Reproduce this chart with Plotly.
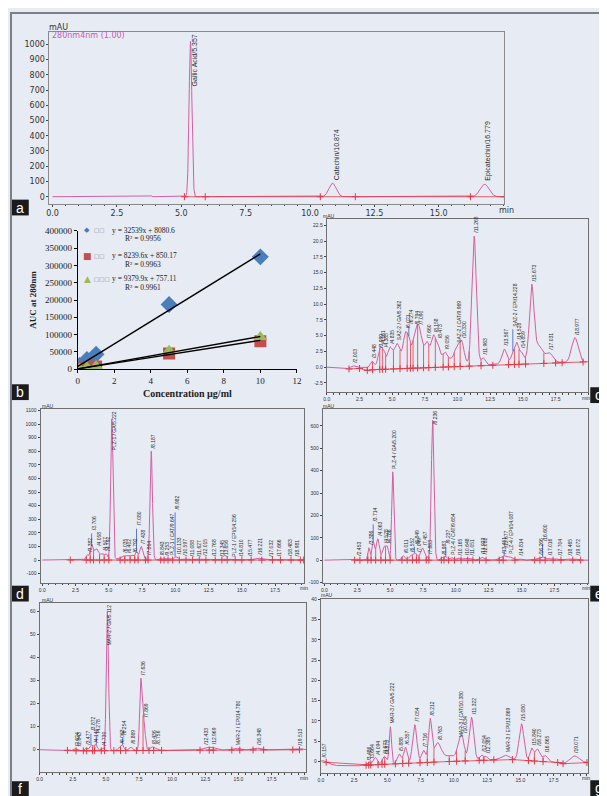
import numpy as np
import plotly.graph_objects as go

W, H = 607, 796
BG = '#e7ebf4'
TRACE = '#d2609f'
BASE = '#e53945'
LEAD = '#3a5cc8'

# ---------------- Panel a : standard mixture ----------------
a_rt = [3.80, 4.60, 5.357, 10.874, 16.779]
a_height = [8, 4, 1020, 88, 82]
a_sigma = [0.03, 0.03, 0.055, 0.14, 0.17]
a_label = ['', '', 'Gallic Acid/5.357', 'Catechin/10.874', 'Epicatechin/16.779']
a_label_y = [None, None, None, None, None]
a_base_t = [0, 17.6]
a_base_v = [0, 0]
a_marks = [5.12, 5.93, 10.40, 11.76, 16.23, 17.55]
a_yticks = list(range(0, 1001, 100))
a_xticks = [0, 2.5, 5, 7.5, 10, 12.5, 15]

# ---------------- Panel b : calibration ----------------
b_conc = [0.1, 0.5, 1, 5, 10]
b_ga = [11000, 28000, 43000, 187000, 325000]
b_cat = [3000, 5000, 8000, 45000, 81000]
b_epi = [2000, 5500, 9500, 53000, 93000]
b_fit_slope = [32539, 8239.6, 9379.9]
b_fit_icpt = [8080.6, 850.17, 757.11]
b_eq = ['y = 32539x + 8080.6', 'y = 8239.6x + 850.17', 'y = 9379.9x + 757.11']
b_r2 = ['R² = 0.9956', 'R² = 0.9963', 'R² = 0.9961']
b_names = ['□□', '□□', '□□□']
b_xticks = [0, 2, 4, 6, 8, 10, 12]
b_yticks = list(range(0, 400001, 50000))

# ---------------- Panel c : SAZ-2 ----------------
c_rt = [2.003, 3.448, 3.989, 4.161, 4.385, 4.835, 5.362, 6.021, 6.274, 6.794, 7.090, 7.660,
        8.158, 8.473, 9.056, 9.969, 10.330, 11.268, 11.963, 13.567, 14.228, 14.528, 14.859,
        15.673, 16.20, 17.031, 18.977, 7.0, 15.3]
c_height = [0.35, 0.8, 1.0, 2.3, 1.2, 2.0, 2.1, 3.3, 1.7, 3.0, 2.9, 1.6,
            2.8, 1.7, 0.8, 2.1, 3.0, 20.3, 1.1, 2.2, 1.3, 2.7, 1.1,
            11.3, 2.2, 1.3, 3.9, 2.7, 0.9]
c_sigma = [0.15, 0.12, 0.10, 0.14, 0.09, 0.17, 0.17, 0.15, 0.11, 0.19, 0.17, 0.15,
           0.15, 0.13, 0.13, 0.20, 0.17, 0.17, 0.16, 0.17, 0.12, 0.13, 0.12,
           0.17, 0.30, 0.25, 0.25, 2.0, 1.2]
c_label = ['/2.003', '/3.448', '/3.989', '/4.161', '/4.385', '/4.835', 'SAZ-2 / GA/5.362', '/6.021',
           '/6.274', '/6.794', '/7.090', '/7.660', '/8.158', '/8.473', '/9.056', 'SAZ-2 / CAT/9.969',
           '/10.330', '/11.268', '/11.963', '/13.567', 'SAZ-2 / EPI/14.228', '/14.528', '/14.859',
           '/15.673', '', '/17.031', '/18.977', '', '']
c_label_y = [None] * 8 + [6.4] + [None] * 11 + [6.0] + [None] * 8
c_base_t = [0, 1.5, 2.5, 3.1, 3.5, 19.9]
c_base_v = [0, -0.3, -0.2, -0.5, -0.4, 0.85]
c_marks = [1.7, 2.5, 3.1, 3.5, 4.05, 4.25, 4.5, 5.1, 5.6, 6.15, 6.4, 6.6, 6.95, 7.4, 7.8,
           8.3, 8.9, 9.3, 9.75, 10.2, 10.9, 11.8, 12.7, 13.9, 14.35, 14.7, 15.2, 16.6, 17.5, 18.0, 19.6]
c_yticks = [-2.5, 0, 2.5, 5, 7.5, 10, 12.5, 15, 17.5, 20, 22.5]

# ---------------- Panel d : PLZ-1 ----------------
d_rt = [3.382, 3.706, 4.058, 4.507, 4.792, 5.222, 6.035, 6.402, 6.792, 7.080, 7.438, 7.864,
        8.187, 8.843, 9.253, 9.647, 9.982, 10.133, 10.597, 11.088, 11.627, 12.015, 12.768,
        13.345, 13.656, 14.256, 14.810, 15.477, 16.221, 17.032, 17.666, 18.483, 18.981, 4.2, 6.5]
d_height = [30, 95, 60, 25, 30, 1030, 15, 15, 15, 50, 95, 12,
            800, 12, 12, 12, 20, 15, 8, 7, 7, 7, 5,
            5, 5, 5, 5, 5, 14, 5, 5, 5, 5, 25, 18]
d_sigma = [0.08, 0.10, 0.15, 0.12, 0.08, 0.085, 0.15, 0.15, 0.12, 0.09, 0.12, 0.10,
           0.09, 0.12, 0.12, 0.12, 0.08, 0.10, 0.15, 0.15, 0.15, 0.15, 0.15,
           0.15, 0.15, 0.15, 0.15, 0.15, 0.25, 0.20, 0.20, 0.20, 0.20, 0.6, 0.6]
d_label = ['/3.382', '/3.706', '/4.058', '/4.507', '/4.792', 'PLZ-1 / GA/5.222', '/6.035', '/6.402',
           '/6.792', '/7.080', '/7.438', '/7.864', '/8.187', '/8.843', '/9.253', 'PLZ-1 / CAT/9.647',
           '/9.982', '/10.133', '/10.597', '/11.088', '/11.627', '/12.015', '/12.768', '/13.345',
           '/13.656', 'PLZ-1 / EPI/14.256', '/14.810', '/15.477', '/16.221', '/17.032', '/17.666',
           '/18.483', '/18.981', '', '']
d_label_y = [None, 195, None, None, None, None, None, None, None, 230, None, None, None, None, None,
             None, 350] + [None] * 18
d_base_t = [0, 19.8]
d_base_v = [0, 0]
d_marks = [2.1, 3.3, 3.6, 3.85, 4.3, 4.65, 5.0, 5.85, 6.2, 6.6, 6.95, 7.2, 7.75, 7.95, 8.9, 9.15,
           9.45, 9.8, 10.3, 10.8, 11.3, 11.8, 12.3, 13.0, 13.5, 13.9, 14.5, 15.0, 15.7, 16.5, 17.3,
           17.9, 18.7, 19.4, 19.65]
d_yticks = list(range(-100, 1101, 100))

# ---------------- Panel e : PLZ-4 ----------------
e_rt = [2.453, 3.386, 3.714, 4.063, 4.528, 4.786, 5.200, 6.011, 6.552, 6.849, 7.049, 7.457,
        7.883, 8.236, 8.983, 9.237, 9.654, 10.165, 10.648, 11.051, 11.923, 12.032, 13.451,
        13.677, 14.087, 14.814, 16.266, 16.600, 17.016, 17.704, 18.465, 19.072]
e_height = [5, 55, 80, 95, 60, 55, 395, 20, 20, 30, 15, 55,
            12, 625, 12, 15, 12, 10, 8, 8, 8, 6, 10,
            12, 15, 6, 8, 12, 6, 5, 5, 5]
e_sigma = [0.10, 0.08, 0.10, 0.12, 0.13, 0.10, 0.08, 0.12, 0.12, 0.12, 0.10, 0.15,
           0.10, 0.10, 0.12, 0.10, 0.12, 0.15, 0.15, 0.15, 0.15, 0.12, 0.20,
           0.15, 0.20, 0.20, 0.20, 0.15, 0.20, 0.20, 0.20, 0.20]
e_label = ['/2.453', '/3.386', '/3.714', '/4.063', '/4.528', '/4.786', 'PLZ-4 / GA/5.200', '/6.011',
           '/6.552', '/6.849', '/7.049', '/7.457', '/7.883', '/8.236', '/8.983', '/9.237',
           'PLZ-4 / CAT/9.654', '/10.165', '/10.648', '/11.051', '/11.923', '/12.032', '/13.451',
           '/13.677', 'PLZ-4 / EPI/14.087', '/14.814', '/16.266', '/16.600', '/17.016', '/17.704',
           '/18.465', '/19.072']
e_label_y = [None, None, 160, None, None, None, None, None, None, 60, None, None, None, None, None,
             60, None, None, None, None, None, None, None, 42, None, None, None, 72, None, None, None, None]
e_base_t = [0, 20]
e_base_v = [0, 0]
e_marks = [2.3, 2.7, 3.3, 3.55, 3.9, 4.3, 4.65, 5.0, 5.9, 6.3, 6.7, 7.0, 7.2, 7.75, 7.95, 8.9, 9.1,
           9.45, 9.9, 10.4, 10.9, 11.3, 11.8, 12.3, 13.3, 13.6, 14.5, 16.0, 16.4, 16.8, 17.4, 18.0,
           18.9, 19.5]
e_yticks = list(range(-100, 601, 100))

# ---------------- Panel f : MAR-2 ----------------
f_rt = [2.624, 2.843, 3.477, 3.872, 4.140, 4.278, 4.730, 5.112, 6.063, 6.254, 6.869, 7.636,
        7.869, 8.436, 8.756, 12.433, 12.969, 14.780, 16.348, 19.513]
f_height = [0.8, 0.8, 1.2, 2.5, 1.5, 2.0, 1.0, 60, 1.5, 2.0, 1.5, 30.5,
            12, 1.5, 1.0, 0.8, 1.2, 0.8, 0.8, 0.5]
f_sigma = [0.10, 0.10, 0.10, 0.12, 0.10, 0.10, 0.10, 0.085, 0.15, 0.10, 0.15, 0.09,
           0.10, 0.15, 0.15, 0.25, 0.30, 0.30, 0.30, 0.30]
f_label = ['/2.624', '/2.843', '/3.477', '/3.872', '/4.140', '/4.278', '/4.730', 'MAR-2 / GA/5.112',
           '/6.063', '/6.254', '/6.869', '/7.636', '/7.869', '/8.436', '/8.756', '/12.433',
           '/12.969', 'MAR-2 / EPI/14.780', '/16.348', '/19.513']
f_label_y = [None, None, None, 7.0, None, 6.0, None, None, None, 5.0] + [None] * 10
f_base_t = [0, 2.0, 2.2, 20]
f_base_v = [0, 0, -0.5, 0]
f_marks = [2.1, 2.75, 3.3, 3.55, 4.0, 4.15, 4.65, 4.9, 5.6, 6.1, 6.5, 7.3, 7.8, 8.25, 8.6, 9.2,
           12.1, 12.8, 13.1, 14.5, 15.1, 16.1, 16.9, 19.1, 19.6]
f_yticks = [0, 10, 20, 30, 40, 50, 60]

# ---------------- Panel g : MAR-3 ----------------
g_rt = [0.157, 3.486, 3.664, 4.094, 4.673, 4.873, 5.222, 5.888, 6.357, 7.054, 7.716, 8.212,
        8.763, 10.380, 10.634, 11.322, 12.054, 12.385, 13.869, 15.080, 15.840, 16.273, 16.865,
        19.071, 9.6]
g_height = [0.3, 0.3, 0.8, 1.8, 1.6, 1.5, 9.2, 2.4, 4.0, 9.4, 2.8, 10.0,
            3.8, 3.0, 4.6, 10.4, 1.2, 0.9, 1.0, 9.0, 3.0, 3.0, 1.5,
            1.8, 1.4]
g_sigma = [0.10, 0.08, 0.10, 0.15, 0.10, 0.10, 0.09, 0.15, 0.13, 0.16, 0.15, 0.12,
           0.25, 0.15, 0.15, 0.17, 0.12, 0.12, 0.30, 0.18, 0.13, 0.18, 0.20,
           0.35, 1.0]
g_label = ['/0.157', '/3.486', '/3.664', '/4.094', '/4.673', '/4.873', 'MAR-3 / GA/5.222', '/5.888',
           '/6.357', '/7.054', '/7.716', '/8.212', '/8.763', 'MAR-3 / CAT/10.380', '/10.634',
           '/11.322', '/12.054', '/12.385', 'MAR-3 / EPI/13.869', '/15.080', '/15.840', '/16.273',
           '/16.865', '/19.071', '']
g_label_y = [None] * 25
g_base_t = [0, 0.5, 1.0, 2.5, 3.3, 5.0, 10.0, 14.0, 17.8, 18.2, 20.1]
g_base_v = [0, -0.3, -1.0, -1.2, -1.0, -0.7, 0.0, 0.5, -0.3, -0.6, -0.3]
g_marks = [0.4, 3.4, 3.6, 3.75, 4.3, 4.6, 4.8, 5.6, 6.15, 6.6, 7.45, 8.0, 8.5, 9.65, 10.2, 10.85,
           11.9, 12.25, 13.0, 14.4, 15.6, 16.05, 16.7, 17.8, 18.2, 20.0]
g_yticks = [0, 5, 10, 15, 20, 25, 30, 35, 40]

chrom_xticks = [0, 2.5, 5, 7.5, 10, 12.5, 15, 17.5]

# =================================================================
fig = go.Figure()
annotations = []
shapes = []


def xdom(p0, p1):
    return [p0 / W, p1 / W]


def ydom(p0, p1):
    return [1 - p1 / H, 1 - p0 / H]


def signal(t, rt, h, s, bt, bv):
    y = np.interp(t, bt, bv)
    for r, hh, ss in zip(rt, h, s):
        y = y + hh * np.exp(-0.5 * ((t - r) / ss) ** 2)
    return y


def ax_name(n):
    return '' if n == 1 else str(n)


def add_chrom(n, rt, h, s, lab, laby, bt, bv, marks, xr, yr, xd, yd, yticks, yfmt,
              xticks, tick_size, tick_family, lab_size, lab_family, charw, xshift,
              lab_color='#2b2b2b', frame='#6f6f70'):
    k = ax_name(n)
    xa, ya = 'x' + k, 'y' + k
    t = np.arange(max(xr[0], 0), xr[1], 0.005)
    y = signal(t, rt, h, s, bt, bv)
    mb = np.interp(marks, bt, bv)
    ms = signal(np.array(marks, float), rt, h, s, bt, bv)
    dx, dy = [], []
    for m, b0, s0 in zip(marks, mb, ms):
        dx += [m, m, None]
        dy += [b0, s0, None]
    fig.add_trace(go.Scatter(x=dx, y=dy, mode='lines', line=dict(color=BASE, width=0.8),
                             xaxis=xa, yaxis=ya, showlegend=False, hoverinfo='skip'))
    fig.add_trace(go.Scatter(x=t, y=y, mode='lines', line=dict(color=TRACE, width=1),
                             xaxis=xa, yaxis=ya, showlegend=False))
    fig.add_trace(go.Scatter(x=marks, y=mb, mode='lines+markers',
                             line=dict(color=BASE, width=0.8),
                             marker=dict(symbol='cross-thin', size=5,
                                         line=dict(color=BASE, width=1)),
                             xaxis=xa, yaxis=ya, showlegend=False))
    ppu = (yd[1] - yd[0]) / (yr[1] - yr[0])
    lx, ly = [], []
    for r, text, ly0 in zip(rt, lab, laby):
        if not text:
            continue
        apex = float(signal(np.array([r]), rt, h, s, bt, bv)[0])
        yl = apex if ly0 is None else ly0
        if ly0 is not None:
            lx += [r, r, None]
            ly += [apex, ly0, None]
        L = len(text) * charw / ppu
        if yl + L > yr[1]:
            yl = yr[1] - 0.001 * (yr[1] - yr[0])
            ya_ = 'top'
        else:
            ya_ = 'bottom'
        annotations.append(dict(x=r, y=yl, xref=xa, yref=ya, text=text, showarrow=False,
                                textangle=-90, xanchor='center', yanchor=ya_, xshift=xshift,
                                yshift=1 if ya_ == 'bottom' else 0,
                                font=dict(size=lab_size, family=lab_family, color=lab_color)))
    if lx:
        fig.add_trace(go.Scatter(x=lx, y=ly, mode='lines', line=dict(color=LEAD, width=0.8),
                                 xaxis=xa, yaxis=ya, showlegend=False, hoverinfo='skip'))
    axis_common = dict(showline=True, mirror=True, linecolor=frame, linewidth=1, showgrid=False,
                       zeroline=False, ticks='outside', ticklen=2, tickcolor='#444',
                       tickfont=dict(size=tick_size, family=tick_family, color='#333'))
    fig.update_layout(**{
        'xaxis' + k: dict(domain=xdom(*xd), range=xr, anchor=ya, tickvals=xticks,
                          ticktext=['%.1f' % v for v in xticks],
                          minor=dict(ticks='outside', dtick=0.5, ticklen=1.5, tickcolor='#444'),
                          **axis_common),
        'yaxis' + k: dict(domain=ydom(*yd), range=yr, anchor=xa, tickvals=yticks,
                          ticktext=[yfmt % v for v in yticks], **axis_common),
    })


add_chrom(1, a_rt, a_height, a_sigma, a_label, a_label_y, a_base_t, a_base_v, a_marks,
          [-0.12, 17.55], [-45, 1082], (39, 500), (19, 193), a_yticks, '%d', a_xticks,
          8, 'DejaVu Sans', 7, 'Liberation Sans Narrow, Liberation Sans', 2.6, 4, frame='#8a8a8c')
add_chrom(3, c_rt, c_height, c_sigma, c_label, c_label_y, c_base_t, c_base_v, c_marks,
          [0, 20.0], [-3.96, 23.43], (320, 585), (209, 384), c_yticks, '%.1f', chrom_xticks,
          5, 'Liberation Sans', 5, 'Liberation Sans', 2.3, 2)
add_chrom(4, d_rt, d_height, d_sigma, d_label, d_label_y, d_base_t, d_base_v, d_marks,
          [-0.13, 19.68], [-167, 1111], (30, 297), (401, 577), d_yticks, '%d', chrom_xticks,
          5, 'Liberation Sans', 5, 'Liberation Sans', 2.5, 2)
add_chrom(5, e_rt, e_height, e_sigma, e_label, e_label_y, e_base_t, e_base_v, e_marks,
          [-0.12, 20.08], [-101, 676], (316, 585), (401, 577), e_yticks, '%d', chrom_xticks,
          5, 'Liberation Sans', 5, 'Liberation Sans', 2.5, 2)
add_chrom(6, f_rt, f_height, f_sigma, f_label, f_label_y, f_base_t, f_base_v, f_marks,
          [0, 20.1], [-9.8, 63.8], (29, 299), (597, 769), f_yticks, '%d', chrom_xticks,
          5, 'Liberation Sans', 5, 'Liberation Sans', 2.5, 2)
add_chrom(7, g_rt, g_height, g_sigma, g_label, g_label_y, g_base_t, g_base_v, g_marks,
          [0, 20.1], [-2.97, 40.2], (314, 585), (593, 770), g_yticks, '%d', chrom_xticks,
          5, 'Liberation Sans', 5, 'Liberation Sans', 2.5, 2)

# ---- panel b : calibration curves
b_colors = ['#4a7ebb', '#c0504d', '#9bbb59']
b_symbols = ['diamond', 'square', 'triangle-up']
for series, col, sym in zip([b_ga, b_cat, b_epi], b_colors, b_symbols):
    fig.add_trace(go.Scatter(x=b_conc, y=series, mode='markers',
                             marker=dict(symbol=sym, size=13 if sym == 'diamond' else 12, color=col),
                             xaxis='x2', yaxis='y2', showlegend=False))
for sl, ic in zip(b_fit_slope, b_fit_icpt):
    fig.add_trace(go.Scatter(x=[0, 10], y=[ic, sl * 10 + ic], mode='lines',
                             line=dict(color='black', width=1.4),
                             xaxis='x2', yaxis='y2', showlegend=False))
b_axis = dict(showline=True, linecolor='black', linewidth=1.2, showgrid=False, zeroline=False,
              ticks='outside', ticklen=3, tickcolor='black',
              tickfont=dict(size=9, family='Liberation Serif', color='#222'))
fig.update_layout(
    xaxis2=dict(domain=xdom(67.7, 289.7), range=[0, 12], anchor='y2', tickvals=b_xticks,
                title=dict(text='<b>Concentration µg/ml</b>', standoff=4,
                           font=dict(size=10, family='Liberation Serif', color='#222')),
                **b_axis),
    yaxis2=dict(domain=ydom(220.7, 360.7), range=[0, 400000], anchor='x2', tickvals=b_yticks,
                ticktext=[str(v) for v in b_yticks],
                title=dict(text='<b>AUC at 280nm</b>', standoff=6,
                           font=dict(size=9, family='Liberation Serif', color='#222')),
                **b_axis),
)
leg_rows = [220, 246, 269]
leg_glyph = ['◆', '■', '▲']
for row, g, col, nm, eq, r2 in zip(leg_rows, leg_glyph, b_colors, b_names, b_eq, b_r2):
    annotations.append(dict(x=77.5 / W, y=1 - row / H, xref='paper', yref='paper', text=g,
                            showarrow=False, font=dict(size=7 if g == '◆' else 9, color=col,
                                                       family='DejaVu Sans'),
                            xanchor='center', yanchor='middle'))
    annotations.append(dict(x=82 / W, y=1 - row / H, xref='paper', yref='paper', text=nm,
                            showarrow=False, font=dict(size=5.5, color='#888', family='DejaVu Sans'),
                            xanchor='left', yanchor='middle'))
    annotations.append(dict(x=100 / W, y=1 - row / H, xref='paper', yref='paper', text=eq,
                            showarrow=False, font=dict(size=7.5, color='#222', family='Liberation Serif'),
                            xanchor='left', yanchor='middle'))
    annotations.append(dict(x=134 / W, y=1 - (row + 8.5) / H, xref='paper', yref='paper', text=r2,
                            showarrow=False, font=dict(size=7.5, color='#222', family='Liberation Serif'),
                            xanchor='center', yanchor='middle'))


def ptext(x, y, text, size, color='#333', family='Liberation Sans', xa='left', ya='middle'):
    annotations.append(dict(x=x / W, y=1 - y / H, xref='paper', yref='paper', text=text,
                            showarrow=False, font=dict(size=size, color=color, family=family),
                            xanchor=xa, yanchor=ya))


ptext(36, 15, 'mAU', 8, family='DejaVu Sans')
ptext(40, 23, '280nm4nm (1.00)', 8, color='#c55ab8', family='DejaVu Sans')
ptext(492, 200, 'min', 8, family='DejaVu Sans')
for (mx, my), (nx, ny) in [((314, 206), (577, 390)), ((29, 398), (291, 582)),
                           ((314, 398), (577, 582)), ((29, 594), (291, 775)),
                           ((312, 589), (577, 775))]:
    ptext(mx, my, 'mAU', 5)
    ptext(nx, ny, 'min', 5)

for letter, x0, y0 in [('a', 1, 189), ('b', 1, 376), ('c', 587, 379), ('d', 1, 580),
                       ('e', 587, 580), ('f', 1, 778), ('g', 587, 777)]:
    shapes.append(dict(type='rect', xref='paper', yref='paper', x0=x0 / W, x1=(x0 + 17) / W,
                       y0=1 - (y0 + 16) / H, y1=1 - y0 / H, fillcolor='#1b1b1b', line=dict(width=0),
                       layer='above'))
    annotations.append(dict(x=(x0 + 8.5) / W, y=1 - (y0 + 8) / H, xref='paper', yref='paper',
                            text=letter, showarrow=False, xanchor='center', yanchor='middle',
                            font=dict(size=14, color='white', family='Liberation Sans')))

shapes.append(dict(type='rect', xref='paper', yref='paper', x0=0, x1=1, y0=0, y1=1,
                   line=dict(color='#7d7f84', width=2), fillcolor='rgba(0,0,0,0)'))

fig.update_layout(width=W, height=H, margin=dict(l=0, r=0, t=0, b=0),
                  paper_bgcolor=BG, plot_bgcolor=BG, showlegend=False,
                  annotations=annotations, shapes=shapes)
fig.write_html('out.html')
